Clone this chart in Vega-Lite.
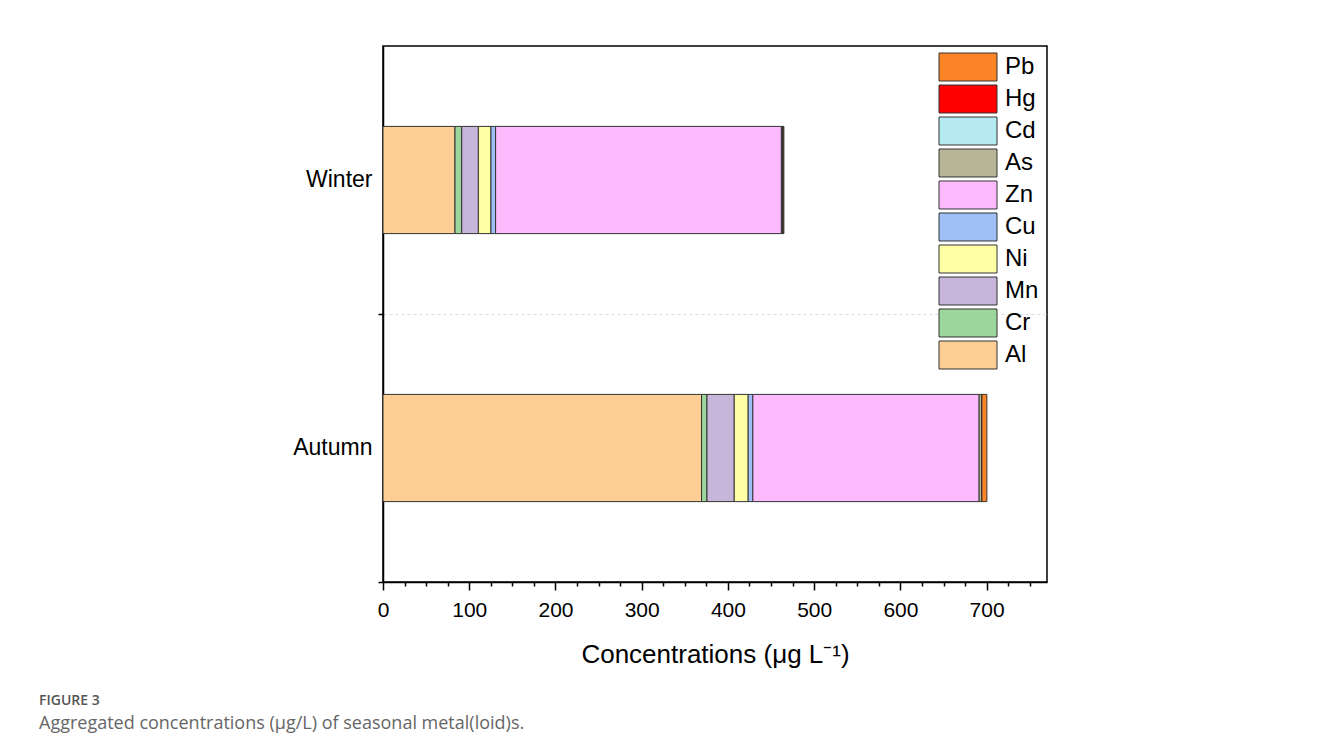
{
  "$schema": "https://vega.github.io/schema/vega-lite/v6.json",
  "width": 664,
  "height": 536,
  "autosize": {"type": "none"},
  "padding": {"left": 383, "top": 46, "right": 273, "bottom": 172},
  "background": "white",
  "config": {
    "font": "Liberation Sans",
    "view": {"stroke": "#000", "strokeWidth": 1.5}
  },
  "title": {
    "text": "FIGURE 3",
    "subtitle": "Aggregated concentrations (µg/L) of seasonal metal(loid)s.",
    "orient": "bottom",
    "anchor": "start",
    "frame": "group",
    "dx": -344,
    "offset": 27,
    "font": "Open Sans",
    "fontSize": 14,
    "fontWeight": 600,
    "color": "#555555",
    "subtitleFont": "Open Sans",
    "subtitleFontSize": 18,
    "subtitleColor": "#666666",
    "subtitlePadding": 7
  },
  "data": {
    "values": [
      {"season": "Winter", "metal": "Al", "idx": 1, "value": 83.5},
      {"season": "Winter", "metal": "Cr", "idx": 2, "value": 7.8},
      {"season": "Winter", "metal": "Mn", "idx": 3, "value": 19.3},
      {"season": "Winter", "metal": "Ni", "idx": 4, "value": 14.6},
      {"season": "Winter", "metal": "Cu", "idx": 5, "value": 5.4},
      {"season": "Winter", "metal": "Zn", "idx": 6, "value": 331.4},
      {"season": "Winter", "metal": "As", "idx": 7, "value": 1.6},
      {"season": "Winter", "metal": "Cd", "idx": 8, "value": 0.3},
      {"season": "Winter", "metal": "Hg", "idx": 9, "value": 0.1},
      {"season": "Winter", "metal": "Pb", "idx": 10, "value": 0.9},
      {"season": "Autumn", "metal": "Al", "idx": 1, "value": 369.4},
      {"season": "Autumn", "metal": "Cr", "idx": 2, "value": 6.3},
      {"season": "Autumn", "metal": "Mn", "idx": 3, "value": 31.6},
      {"season": "Autumn", "metal": "Ni", "idx": 4, "value": 16.2},
      {"season": "Autumn", "metal": "Cu", "idx": 5, "value": 5.4},
      {"season": "Autumn", "metal": "Zn", "idx": 6, "value": 262.4},
      {"season": "Autumn", "metal": "As", "idx": 7, "value": 2.8},
      {"season": "Autumn", "metal": "Cd", "idx": 8, "value": 0.3},
      {"season": "Autumn", "metal": "Hg", "idx": 9, "value": 0.1},
      {"season": "Autumn", "metal": "Pb", "idx": 10, "value": 5.8}
    ]
  },
  "mark": {"type": "bar", "stroke": "#333333", "strokeWidth": 1},
  "encoding": {
    "y": {
      "field": "season",
      "type": "nominal",
      "sort": ["Winter", "Autumn"],
      "scale": {"paddingInner": 0.6, "paddingOuter": 0.3},
      "axis": {
        "title": null,
        "labelFont": "Liberation Sans",
        "labelFontSize": 23,
        "labelColor": "#000",
        "labelPadding": 6,
        "tickSize": 5,
        "tickColor": "#000",
        "tickWidth": 1.5,
        "bandPosition": 1.75,
        "domainColor": "#000",
        "domainWidth": 1.5,
        "grid": true,
        "gridColor": "#dddddd",
        "gridDash": [3, 3],
        "gridWidth": 1
      }
    },
    "x": {
      "field": "value",
      "type": "quantitative",
      "stack": "zero",
      "scale": {"domain": [0, 770], "nice": false},
      "axis": {
        "title": "Concentrations (μg L⁻¹)",
        "titleFont": "Liberation Sans",
        "titleFontSize": 26,
        "titleFontWeight": "normal",
        "titleColor": "#000",
        "titlePadding": 21,
        "values": [0, 25, 50, 75, 100, 125, 150, 175, 200, 225, 250, 275, 300, 325, 350, 375, 400, 425, 450, 475, 500, 525, 550, 575, 600, 625, 650, 675, 700, 725, 750],
        "labelExpr": "datum.value % 100 === 0 ? datum.label : ''",
        "labelFont": "Liberation Sans",
        "labelFontSize": 21,
        "labelColor": "#000",
        "labelPadding": 9,
        "labelFlush": false,
        "labelOverlap": false,
        "tickSize": {"condition": {"test": "datum.value % 100 === 0", "value": 8}, "value": 4},
        "tickColor": "#000",
        "tickWidth": 1.5,
        "domainColor": "#000",
        "domainWidth": 1.5,
        "grid": false
      }
    },
    "order": {"field": "idx", "type": "quantitative", "sort": "ascending"},
    "color": {
      "field": "metal",
      "type": "nominal",
      "scale": {
        "domain": ["Pb", "Hg", "Cd", "As", "Zn", "Cu", "Ni", "Mn", "Cr", "Al"],
        "range": ["#FF8427", "#FF0000", "#B5EAF0", "#B6B697", "#FDBBFD", "#9FC0F6", "#FFFFA5", "#C7B6DA", "#9CD69C", "#FDCE96"]
      },
      "legend": {
        "title": null,
        "orient": "none",
        "legendX": 570,
        "legendY": 6,
        "padding": 0,
        "symbolType": "M-2,-0.965H2V0.965H-2Z",
        "symbolSize": 841,
        "symbolStrokeColor": "#333333",
        "symbolStrokeWidth": 1,
        "symbolOpacity": 1,
        "labelFont": "Liberation Sans",
        "labelFontSize": 24,
        "labelColor": "#000",
        "labelOffset": 22,
        "rowPadding": 0
      }
    }
  }
}
